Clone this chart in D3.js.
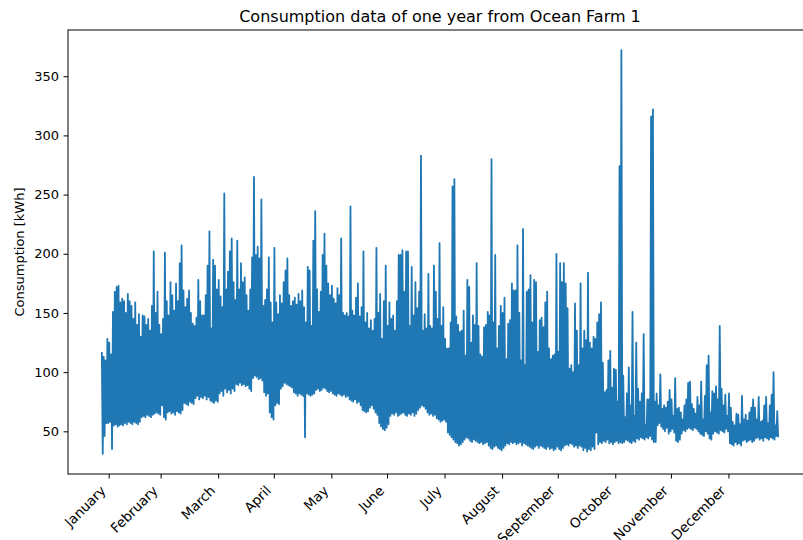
<!DOCTYPE html>
<html>
<head>
<meta charset="utf-8">
<script src="https://cdn.jsdelivr.net/npm/d3@7"></script>
<style>
  html, body { margin: 0; padding: 0; background: #fff; }
  svg { display: block; font-family: "DejaVu Sans", sans-serif; }
</style>
</head>
<body>
<svg id="chart" width="803" height="540"></svg>
<script>
// Daily consumption extremes (kWh) for Ocean Farm 1, one year starting 28 Jan.
const startDay = Date.UTC(2019, 0, 28);

const dailyHigh = [
  117, 113, 110, 128, 125, 115, 151, 168, 172, 173,
  159, 162, 160, 150, 166, 160, 156, 145, 159, 140,
  149, 130, 148, 147, 140, 145, 135, 156, 202, 150,
  168, 140, 132, 145, 201, 160, 148, 176, 165, 152,
  175, 160, 192, 207, 169, 155, 162, 169, 150, 141,
  139, 146, 178, 160, 148, 148, 165, 190, 219, 137,
  195, 190, 170, 178, 164, 155, 251, 170, 185, 202,
  213, 176, 161, 211, 170, 192, 176, 180, 165, 152,
  170, 197, 265, 199, 206, 196, 246, 156, 161, 170,
  197, 159, 142, 205, 159, 149, 165, 158, 176, 186,
  196, 165, 156, 160, 163, 157, 166, 160, 169, 155,
  142, 189, 186, 139, 211, 236, 170, 151, 168, 199,
  217, 190, 175, 165, 173, 162, 158, 171, 165, 213,
  150, 148, 150, 147, 240, 152, 148, 163, 175, 147,
  155, 202, 142, 150, 137, 144, 135, 145, 205, 150,
  166, 128, 160, 190, 139, 159, 145, 148, 135, 160,
  199, 199, 203, 168, 202, 202, 139, 189, 148, 176,
  154, 168, 283, 135, 149, 137, 183, 139, 137, 190,
  168, 145, 209, 139, 155, 128, 120, 120, 142, 257,
  263, 147, 140, 134, 135, 152, 114, 178, 172, 125,
  148, 140, 192, 139, 115, 113, 138, 140, 151, 148,
  280, 142, 199, 120, 139, 156, 150, 163, 111, 141,
  144, 175, 169, 169, 207, 150, 110, 221, 106, 168,
  170, 182, 142, 178, 176, 117, 144, 146, 138, 159,
  168, 120, 111, 114, 115, 200, 117, 192, 176, 192,
  175, 154, 103, 106, 100, 158, 135, 106, 175, 120,
  135, 127, 184, 125, 120, 130, 128, 142, 149, 159,
  108, 83, 85, 110, 118, 87, 103, 102, 75, 274,
  372, 97, 62, 82, 104, 72, 151, 63, 125, 86,
  75, 82, 132, 55, 77, 77, 316, 322, 75, 82,
  72, 98, 69, 72, 70, 75, 85, 77, 63, 95,
  69, 70, 66, 60, 72, 77, 91, 92, 73, 69,
  65, 79, 72, 92, 60, 80, 106, 114, 66, 84,
  82, 88, 77, 139, 86, 72, 81, 63, 82, 70,
  58, 55, 65, 64, 56, 80, 60, 64, 59, 66,
  70, 77, 70, 60, 79, 58, 59, 72, 79, 57,
  72, 81, 100, 55, 67
];

const dailyLow = [
  31, 46, 57, 57, 58, 35, 55, 56, 54, 55,
  56, 55, 57, 56, 58, 57, 56, 58, 57, 56,
  58, 62, 63, 62, 64, 63, 62, 64, 65, 66,
  65, 64, 72, 62, 60, 66, 67, 65, 66, 64,
  67, 66, 65, 68, 74, 73, 72, 75, 74, 73,
  78, 80, 77, 79, 78, 80, 77, 79, 76, 75,
  74, 76, 75, 82, 84, 80, 86, 83, 85, 82,
  86, 84, 90, 89, 91, 89, 90, 88, 89, 86,
  84, 95, 97, 96, 94, 95, 93, 83, 80, 82,
  66, 62, 60, 72, 74, 73, 86, 88, 91, 90,
  89, 88, 87, 83, 82, 80, 82, 81, 80, 45,
  82, 81, 80, 81, 82, 85, 86, 84, 85, 87,
  86, 84, 83, 84, 82, 81, 80, 82, 81, 80,
  81, 79, 80, 77, 76, 75, 77, 74, 75, 72,
  68, 67, 66, 67, 70, 72, 69, 66, 64, 57,
  54, 52, 51, 53, 56, 63, 65, 64, 66, 63,
  64, 65, 66, 64, 63, 65, 64, 66, 63, 65,
  68, 70, 72, 71, 69, 66, 64, 65, 63, 64,
  61, 60, 58, 59, 60, 58, 49, 47, 45, 43,
  41, 40, 38, 39, 41, 43, 45, 44, 42, 41,
  43, 42, 41, 40, 41, 39, 40, 41, 38, 36,
  35, 37, 38, 36, 35, 34, 36, 38, 40, 39,
  41, 40, 41, 39, 40, 41, 38, 40, 39, 38,
  37, 36, 35, 37, 38, 36, 38, 37, 36, 35,
  37, 35, 36, 34, 35, 37, 35, 34, 36, 38,
  39, 38, 40, 39, 37, 38, 36, 38, 37, 34,
  36, 33, 35, 34, 37, 35, 49, 39, 41, 40,
  42, 41, 43, 40, 41, 39, 41, 42, 40, 41,
  40, 41, 43, 42, 41, 40, 42, 41, 44, 43,
  45, 44, 43, 45, 44, 46, 43, 41, 41, 55,
  57, 54, 52, 50, 53, 48, 50, 52, 49, 42,
  41, 43, 48, 51, 50, 52, 53, 52, 51, 53,
  52, 50, 48, 47, 46, 50, 48, 44, 43, 48,
  50, 49, 48, 51, 50, 49, 52, 50, 40, 39,
  38, 41, 39, 40, 38, 42, 43, 41, 42, 43,
  41, 42, 44, 45, 43, 44, 42, 45, 44, 43,
  45, 44, 43, 46, 45
];

// Month tick labels and the dates their ticks sit on
const monthLabels = ["January", "February", "March", "April", "May", "June",
  "July", "August", "September", "October", "November", "December"];
const monthTickDates = monthLabels.map((_, i) => new Date(Date.UTC(2019, i + 1, 1)));

const yTickValues = [50, 100, 150, 200, 250, 300, 350];

// Expand each day into its daytime peak followed by its night-time low
const DAY = 86400000;
const series = [];
dailyHigh.forEach((hi, i) => {
  series.push({ t: new Date(startDay + (i + 0.3) * DAY), v: hi });
  series.push({ t: new Date(startDay + (i + 0.8) * DAY), v: dailyLow[i] });
});

// Axes frame
const frame = { left: 68, top: 30, right: 812, bottom: 474 };

const svg = d3.select("#chart");

const tExt = d3.extent(series, d => d.t.getTime());
const tPad = (tExt[1] - tExt[0]) * 0.05;
const x = d3.scaleUtc()
  .domain([new Date(tExt[0] - tPad), new Date(tExt[1] + tPad)])
  .range([frame.left, frame.right]);

const vExt = d3.extent(series, d => d.v);
const vPad = (vExt[1] - vExt[0]) * 0.05;
const y = d3.scaleLinear()
  .domain([vExt[0] - vPad, vExt[1] + vPad])
  .range([frame.bottom, frame.top]);

// Consumption line
const line = d3.line().x(d => x(d.t)).y(d => y(d.v));
svg.append("path")
  .datum(series)
  .attr("d", line)
  .attr("fill", "none")
  .attr("stroke", "#1f77b4")
  .attr("stroke-width", 1.8)
  .attr("stroke-linejoin", "round");

// Y axis
const yAxis = svg.append("g")
  .attr("transform", `translate(${frame.left},0)`)
  .call(d3.axisLeft(y).tickValues(yTickValues).tickSize(4.5).tickPadding(4.5));
yAxis.select(".domain").remove();
yAxis.selectAll("line").attr("stroke", "#000").attr("stroke-width", 1);
yAxis.selectAll("text").attr("font-size", 13).attr("fill", "#000")
  .attr("font-family", "DejaVu Sans");

// X axis with month names turned 45 degrees, right end under each tick
const xAxis = svg.append("g")
  .attr("transform", `translate(0,${frame.bottom})`)
  .call(d3.axisBottom(x).tickValues(monthTickDates)
    .tickFormat((d, i) => monthLabels[i]).tickSize(4.5).tickPadding(4));
xAxis.select(".domain").remove();
xAxis.selectAll("line").attr("stroke", "#000").attr("stroke-width", 1);
xAxis.selectAll("text")
  .attr("font-size", 13.5).attr("fill", "#000").attr("font-family", "DejaVu Sans")
  .attr("text-anchor", "end")
  .attr("dy", null)
  .attr("y", null)
  .attr("transform", "translate(-2.5,17.5) rotate(-45)");

// Frame spines
svg.append("rect")
  .attr("x", frame.left).attr("y", frame.top)
  .attr("width", frame.right - frame.left).attr("height", frame.bottom - frame.top)
  .attr("fill", "none").attr("stroke", "#000").attr("stroke-width", 1);

// Title and axis label
svg.append("text")
  .attr("x", (frame.left + frame.right) / 2).attr("y", 22)
  .attr("text-anchor", "middle").attr("font-size", 16).attr("fill", "#000")
  .text("Consumption data of one year from Ocean Farm 1");

svg.append("text")
  .attr("transform", `translate(24,${(frame.top + frame.bottom) / 2}) rotate(-90)`)
  .attr("text-anchor", "middle").attr("font-size", 13).attr("fill", "#000")
  .text("Consumption [kWh]");
</script>
</body>
</html>
